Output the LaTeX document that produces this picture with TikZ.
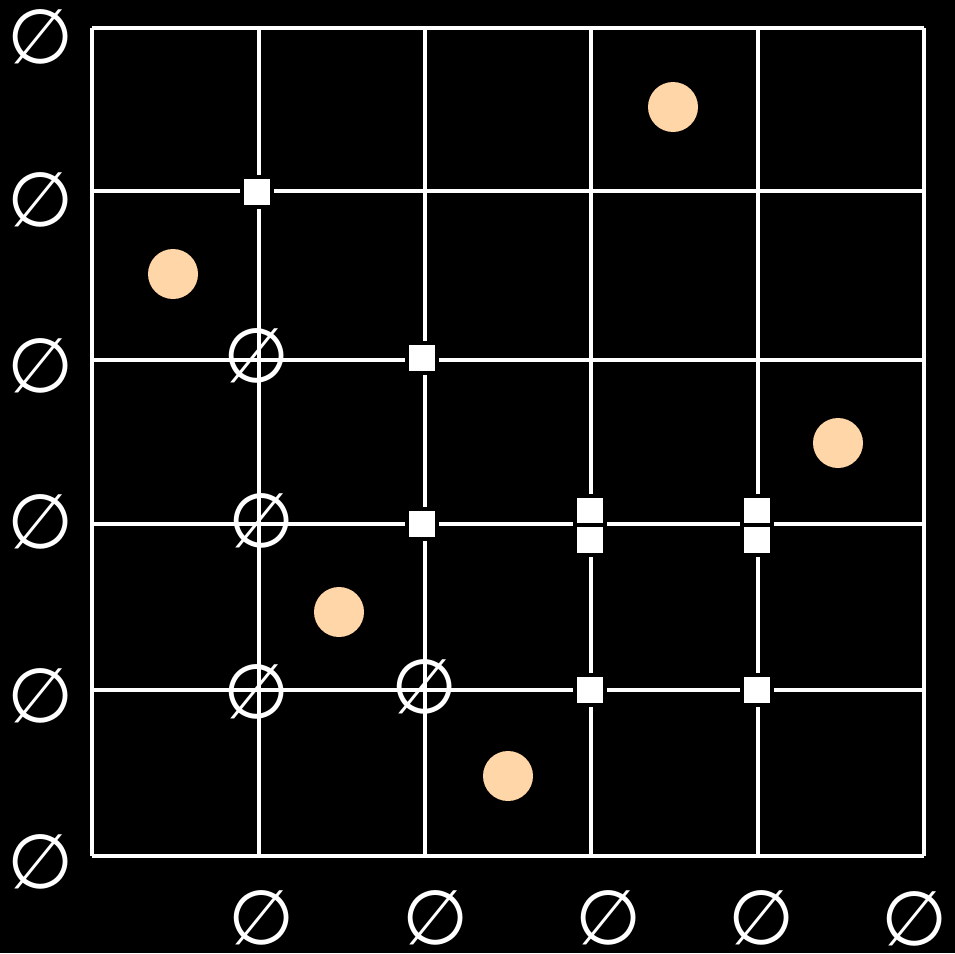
\documentclass[tikz,border=0pt]{standalone}
\usepackage{fontspec}
\newfontfamily\symfont{DejaVu Sans}
\definecolor{peach}{HTML}{FFD6A8}
\begin{document}
\begin{tikzpicture}[x=0.75pt,y=-0.75pt,
  gridline/.style={white,line width=3pt},
  sq/.style={rectangle,fill=white,draw=black,line width=3pt,minimum size=22.5pt,inner sep=0pt},
  dot/.style={circle,fill=peach,minimum size=37.5pt,inner sep=0pt},
  empt/.style={text=white,inner sep=0pt,font=\symfont\fontsize{57}{57}\selectfont}]
\useasboundingbox[fill=black] (0,0) rectangle (955,953);
% grid
\foreach \x in {92,259,425,591,758,924} \draw[gridline] (\x,28) -- (\x,856);
\foreach \y in {28,191,360,524,690,856} \draw[gridline] (92,\y) -- (924,\y);
% peach dots
\node[dot] (d1) at (673,107) {};
\node[dot] (d2) at (173,274) {};
\node[dot] (d3) at (838,443) {};
\node[dot] (d4) at (339,612) {};
\node[dot] (d5) at (508,776) {};
% squares
\node[sq] (s1) at (257,192) {};
\node[sq] (s2) at (422,358) {};
\node[sq] (s3) at (422,524) {};
\node[sq] (s4) at (590,511) {};
\node[sq] (s5) at (590,540) {};
\node[sq] (s6) at (757,511) {};
\node[sq] (s7) at (757,540) {};
\node[sq] (s8) at (590,690) {};
\node[sq] (s9) at (757,690) {};
% empty-set marks on grid
\node[empt] (g1) at (257,356) {∅};
\node[empt] (g2) at (262,521) {∅};
\node[empt] (g3) at (257,692) {∅};
\node[empt] (g4) at (425,687) {∅};
% left labels
\node[empt] (l1) at (41,37) {∅};
\node[empt] (l2) at (41,200) {∅};
\node[empt] (l3) at (41,366) {∅};
\node[empt] (l4) at (41,522) {∅};
\node[empt] (l5) at (41,696) {∅};
\node[empt] (l6) at (41,862) {∅};
% bottom labels
\node[empt] (b1) at (262,918) {∅};
\node[empt] (b2) at (436,918) {∅};
\node[empt] (b3) at (609,918) {∅};
\node[empt] (b4) at (762,918) {∅};
\node[empt] (b5) at (915,919) {∅};
\end{tikzpicture}
\end{document}
